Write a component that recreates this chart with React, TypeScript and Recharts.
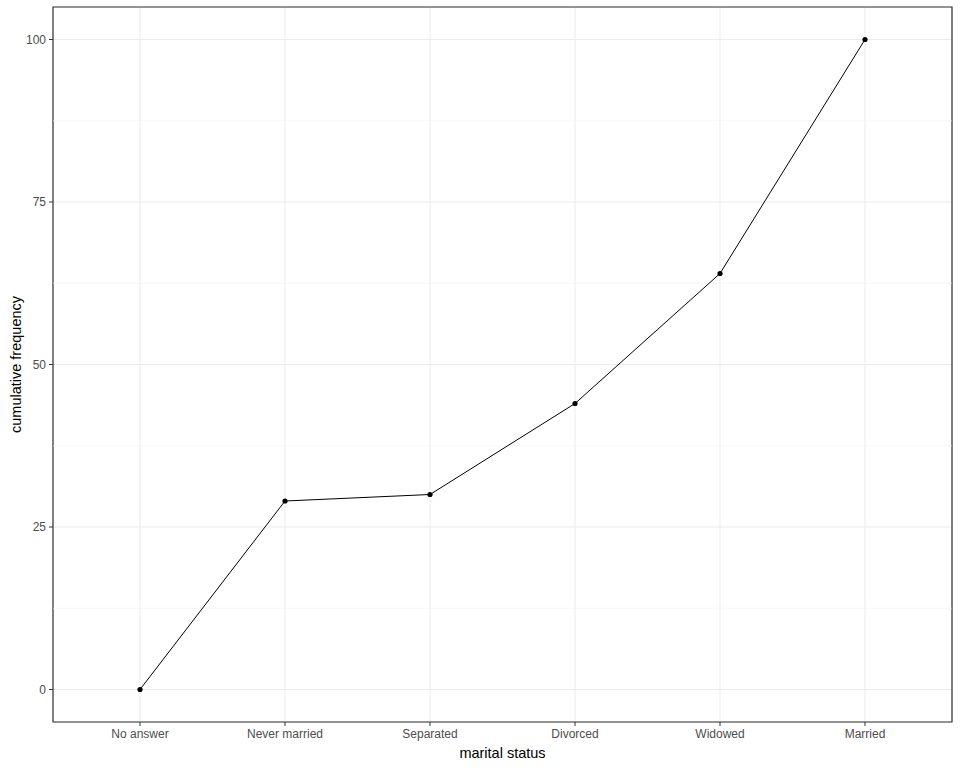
import { LineChart, Line, XAxis, YAxis, CartesianGrid, ReferenceLine, ReferenceArea } from 'recharts'

const categories = ['No answer', 'Never married', 'Separated', 'Divorced', 'Widowed', 'Married']
const cumulative = [0, 29, 30, 44, 64, 100]
const yTicks = [0, 25, 50, 75, 100]
const yMinor = [12.5, 37.5, 62.5, 87.5]

const data = categories.map((c, i) => ({ x: i + 1, label: c, value: cumulative[i] }))

const FONT = 'Arial, "Liberation Sans", sans-serif'

export default function App() {
  return (
    <div style={{ position: 'absolute', left: 0, top: 0, width: 960, height: 768, background: '#fff', fontFamily: FONT }}>
      <LineChart width={960} height={768} data={data}
        margin={{ top: 7, right: 8, bottom: 16, left: 0 }}>
        <CartesianGrid stroke="#EBEBEB" strokeWidth={1} vertical horizontal />
        {yMinor.map(v => (
          <ReferenceLine key={v} y={v} stroke="#F2F2F2" strokeWidth={0.6} />
        ))}
        <XAxis type="number" dataKey="x" domain={[0.4, 6.6]} ticks={[1, 2, 3, 4, 5, 6]} height={30}
          tickFormatter={(v: number) => categories[v - 1] ?? ''}
          axisLine={false} tickLine={{ stroke: '#333333' }} tickSize={4} tickMargin={3}
          tick={{ fill: '#4D4D4D', fontSize: 12, fontFamily: FONT }}
          label={{ value: 'marital status', position: 'insideBottom', offset: -6, fill: '#000', fontSize: 14.5, fontFamily: FONT }}
          allowDataOverflow />
        <YAxis type="number" domain={[-5, 105]} ticks={yTicks} width={53}
          axisLine={false} tickLine={{ stroke: '#333333' }} tickSize={4} tickMargin={3}
          tick={{ fill: '#4D4D4D', fontSize: 12, fontFamily: FONT }}
          label={{ value: 'cumulative frequency', angle: -90, position: 'insideLeft', offset: 16, fill: '#000', fontSize: 14.5, fontFamily: FONT, style: { textAnchor: 'middle' } }}
          allowDataOverflow />
        <ReferenceArea x1={0.4} x2={6.6} y1={-5} y2={105} fill="none" stroke="#333333" strokeWidth={1.2} />
        <Line type="linear" dataKey="value" stroke="#000" strokeWidth={1}
          dot={{ r: 2.6, fill: '#000', stroke: '#000', strokeWidth: 0 }}
          activeDot={false} isAnimationActive={false} />
      </LineChart>
    </div>
  )
}
